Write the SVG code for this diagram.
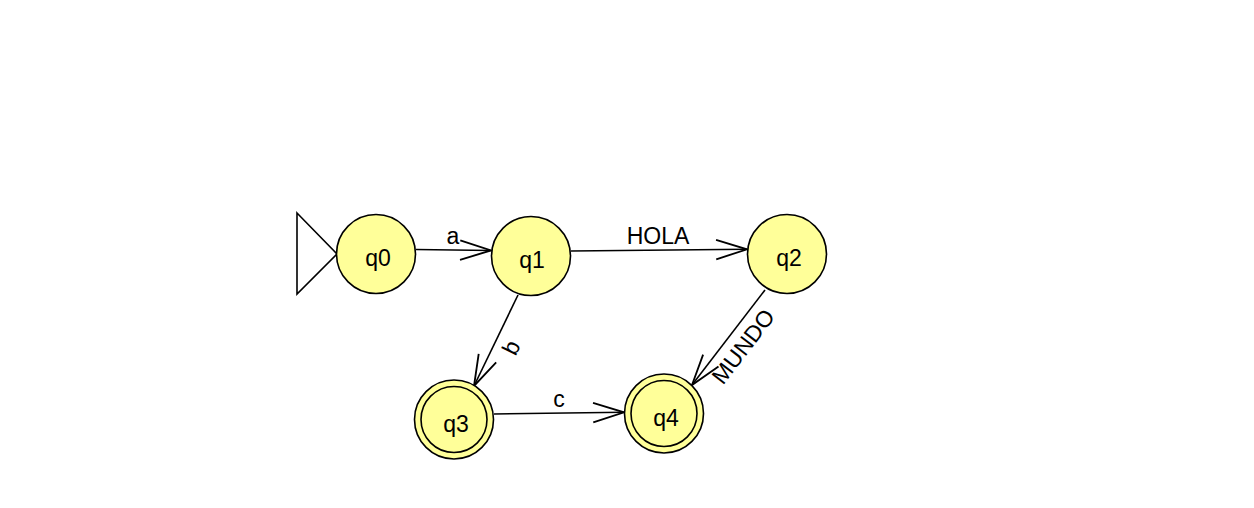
<svg xmlns="http://www.w3.org/2000/svg" width="1254" height="508" viewBox="0 0 1254 508">
<style>
.st{fill:#ffff99;stroke:#000;stroke-width:1.6}
.in{fill:none;stroke:#000;stroke-width:1.6}
.lb{font-family:"Liberation Sans",Arial,sans-serif;font-size:23px;fill:#000;text-anchor:middle}
.e{fill:none;stroke:#000;stroke-width:1.6;marker-end:url(#ah)}
</style>
<defs>
<marker id="ah" markerUnits="userSpaceOnUse" markerWidth="40" markerHeight="40" viewBox="-30 -15 35 30" refX="0" refY="0" orient="auto" overflow="visible">
<path d="M-27,-8.5 L0,0 L-27,8.5" fill="none" stroke="#000" stroke-width="1.6"/>
</marker>
</defs>
<rect width="1254" height="508" fill="#fff"/>
<g id="start">
<polygon points="297,213 337,254 297,294" fill="#fff" stroke="#000" stroke-width="1.6"/>
</g>
<g id="connectors">
<line class="e" x1="416" y1="249.5" x2="491" y2="250.5"/>
<text class="lb" x="453" y="244">a</text>
<line class="e" x1="571" y1="251" x2="747" y2="249.3"/>
<text class="lb" x="658" y="244">HOLA</text>
<line class="e" x1="518" y1="295" x2="474" y2="386"/>
<text class="lb" transform="translate(512,348) rotate(-64)" x="0" y="7">b</text>
<line class="e" x1="494" y1="414" x2="624" y2="412.3"/>
<text class="lb" x="559" y="407">c</text>
<line class="e" x1="765" y1="290" x2="692" y2="385"/>
<text class="lb" transform="translate(744,347) rotate(-52.5)" x="0" y="7">MUNDO</text>
</g>
<g id="q0">
<circle class="st" cx="376" cy="254" r="39.5"/>
<text class="lb" x="378" y="266">q0</text>
</g>
<g id="q1">
<circle class="st" cx="531" cy="256" r="39.5"/>
<text class="lb" x="532" y="268">q1</text>
</g>
<g id="q2">
<circle class="st" cx="787" cy="254" r="39.5"/>
<text class="lb" x="789" y="266">q2</text>
</g>
<g id="q3">
<circle class="st" cx="454" cy="419.5" r="39.5"/>
<circle class="in" cx="454" cy="419.5" r="33"/>
<text class="lb" x="456" y="432">q3</text>
</g>
<g id="q4">
<circle class="st" cx="664" cy="413.5" r="39.5"/>
<circle class="in" cx="664" cy="413.5" r="33"/>
<text class="lb" x="666" y="426">q4</text>
</g>
</svg>
